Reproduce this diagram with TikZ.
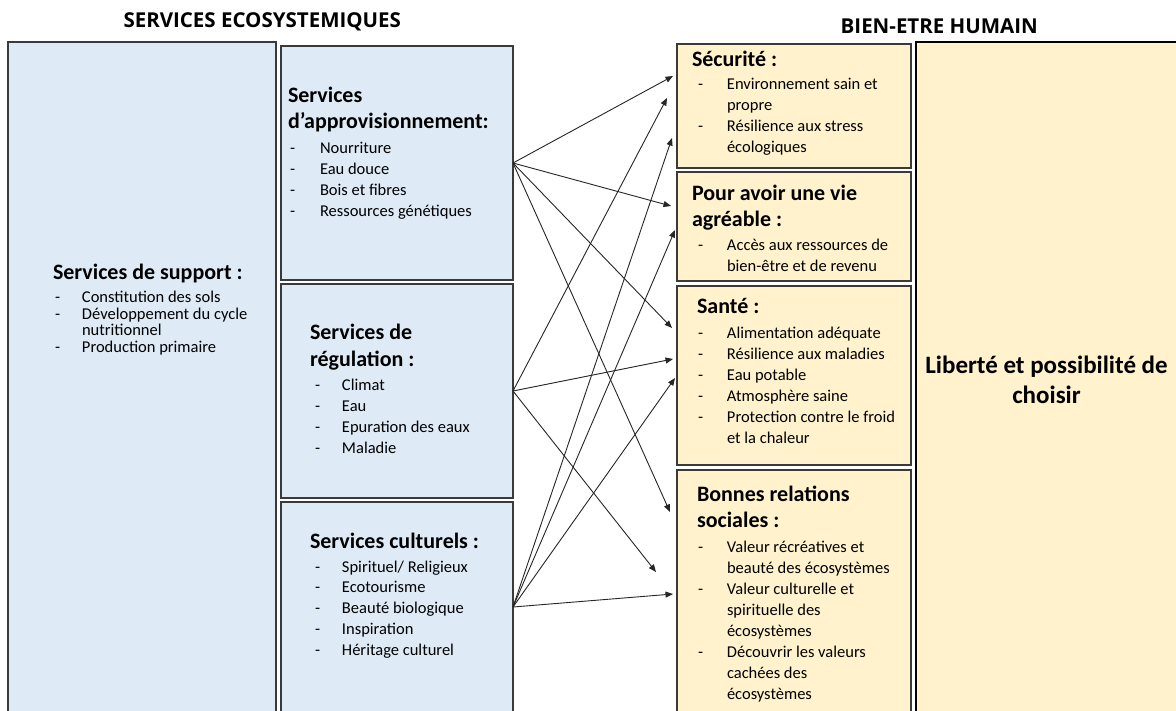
\documentclass[tikz,border=0pt]{standalone}
\usepackage{fontspec}
\setmainfont{Carlito}
\newfontfamily\headfont{Open Sans}
\usetikzlibrary{arrows.meta}

\definecolor{svcfill}{HTML}{DEEBF7}
\definecolor{hwfill}{HTML}{FFF2CC}
\definecolor{edge}{HTML}{3A3A3A}

% hyphen bullet hung to the left of the item text
\newlength\dashgap
\newcommand\dl[1]{\llap{\makebox[\dashgap][l]{-}}#1}

% one text line per entry: name, font style, x, first baseline, line step, entries
\newcommand\itemlines[6]{%
  \foreach \t [count=\i] in {#6}
    \node[txt,#2] (#1-\i) at (#3,{#4+#5*(\i-1)}) {\t};}

\begin{document}
\begin{tikzpicture}[x=1pt,y=-1pt,
  box/.style={draw=edge, line width=1.2pt, anchor=north west, inner sep=0pt, outer sep=0pt},
  svcbox/.style={box, fill=svcfill},
  hwbox/.style={box, fill=hwfill},
  txt/.style={anchor=base west, inner sep=0pt, outer sep=0pt},
  ttl/.style={inner sep=0pt, font=\headfont\bfseries\fontsize{20.5}{24}\selectfont},
  hd/.style={font=\fontsize{22}{26}\selectfont\bfseries},
  itm/.style={font=\fontsize{16.5}{20}\selectfont},
  arr/.style={-{Triangle[length=7.5pt,width=6pt]}, line width=0.9pt, draw=black!85}]

\useasboundingbox (0,0) rectangle (1176,710);
\clip (0,0) rectangle (1176,710);
\fill[white] (0,0) rectangle (1176,710);

% column titles
\node[ttl, anchor=base west] (ttlSvc) at (123.3,27.3) {SERVICES ECOSYSTEMIQUES};
\node[ttl, anchor=base east] (ttlHw) at (1038,33) {BIEN-ETRE HUMAIN};

% ecosystem services
\node[svcbox, minimum width=268pt, minimum height=670pt] (sup) at (8,42) {};
\node[svcbox, minimum width=232pt, minimum height=234pt] (prov) at (281,46) {};
\node[svcbox, minimum width=232pt, minimum height=214pt] (reg) at (281,284) {};
\node[svcbox, minimum width=232pt, minimum height=210pt] (cult) at (281,502) {};

% human well-being
\node[hwbox, minimum width=234pt, minimum height=124pt] (secu) at (677,44) {};
\node[hwbox, minimum width=234pt, minimum height=109pt] (vie) at (677,172) {};
\node[hwbox, minimum width=234pt, minimum height=179pt] (sante) at (677,286) {};
\node[hwbox, minimum width=234pt, minimum height=242pt] (soc) at (677,470) {};
\node[hwbox, draw=black, minimum width=264pt, minimum height=670pt] (lib) at (916,42) {};

% supporting services
\node[txt,hd] (supH) at (53,279.5) {Services de support :};
\setlength\dashgap{27pt}
\itemlines{supI}{itm}{82}{302.5}{16.5}{\dl{Constitution des sols}, \dl{Développement du cycle}, nutritionnel, \dl{Production primaire}}

% provisioning services
\node[txt,hd] (provH1) at (288,102.7) {Services};
\node[txt,hd] (provH2) at (288,128.5) {d’approvisionnement:};
\setlength\dashgap{30pt}
\itemlines{provI}{itm}{320}{153.8}{20.9}{\dl{Nourriture}, \dl{Eau douce}, \dl{Bois et fibres}, \dl{Ressources génétiques}}

% regulating services
\node[txt,hd] (regH1) at (310,339) {Services de};
\node[txt,hd] (regH2) at (310,366) {régulation :};
\setlength\dashgap{27pt}
\itemlines{regI}{itm}{342}{390.5}{20.9}{\dl{Climat}, \dl{Eau}, \dl{Epuration des eaux}, \dl{Maladie}}

% cultural services
\node[txt,hd] (cultH) at (310,548.5) {Services culturels :};
\itemlines{cultI}{itm}{342}{572}{20.9}{\dl{Spirituel/ Religieux}, \dl{Ecotourisme}, \dl{Beauté biologique}, \dl{Inspiration}, \dl{Héritage culturel}}

% security
\setlength\dashgap{29pt}
\node[txt,hd] (secuH) at (692,66) {Sécurité :};
\itemlines{secuI}{itm}{727}{89.5}{20.9}{\dl{Environnement sain et}, propre, \dl{Résilience aux stress}, écologiques}

% good life
\node[txt,hd] (vieH1) at (692,200) {Pour avoir une vie};
\node[txt,hd] (vieH2) at (692,226) {agréable :};
\itemlines{vieI}{itm}{727}{250.5}{20.9}{\dl{Accès aux ressources de}, bien-être et de revenu}

% health
\node[txt,hd] (santeH) at (697,313.5) {Santé :};
\itemlines{santeI}{itm}{727}{338.5}{21}{\dl{Alimentation adéquate}, \dl{Résilience aux maladies}, \dl{Eau potable}, \dl{Atmosphère saine}, \dl{Protection contre le froid}, et la chaleur}

% social relations
\node[txt,hd] (socH1) at (697,501.2) {Bonnes relations};
\node[txt,hd] (socH2) at (697,527.8) {sociales :};
\itemlines{socI}{itm}{727}{552.2}{21.1}{\dl{Valeur récréatives et}, beauté des écosystèmes, \dl{Valeur culturelle et}, spirituelle des, écosystèmes, \dl{Découvrir les valeurs}, cachées des, écosystèmes}

% freedom of choice
\node[anchor=base, inner sep=0pt, font=\fontsize{25}{30}\selectfont\bfseries] (libT1) at (1046.5,373) {Liberté et possibilité de};
\node[anchor=base, inner sep=0pt, font=\fontsize{25}{30}\selectfont\bfseries] (libT2) at (1046.5,403.5) {choisir};

% arrow ends on the well-being boxes
\coordinate (tSec1) at (673,76);
\coordinate (tSec2) at (667,98);
\coordinate (tSec3) at (672,138);
\coordinate (tVie1) at (671,206);
\coordinate (tVie2) at (675,230);
\coordinate (tSan1) at (672,328);
\coordinate (tSan2) at (673,359);
\coordinate (tSan3) at (675,378);
\coordinate (tSoc1) at (670,512);
\coordinate (tSoc2) at (656,572);
\coordinate (tSoc3) at (673,594);

% links between services and well-being
\foreach \t in {tSec1,tVie1,tSan1,tSoc1} \draw[arr] (prov.east) -- (\t);
\foreach \t in {tSec2,tSan2,tSoc2} \draw[arr] (reg.east) -- (\t);
\foreach \t in {tSec3,tVie2,tSan3,tSoc3} \draw[arr] (cult.east) -- (\t);
\end{tikzpicture}
\end{document}
